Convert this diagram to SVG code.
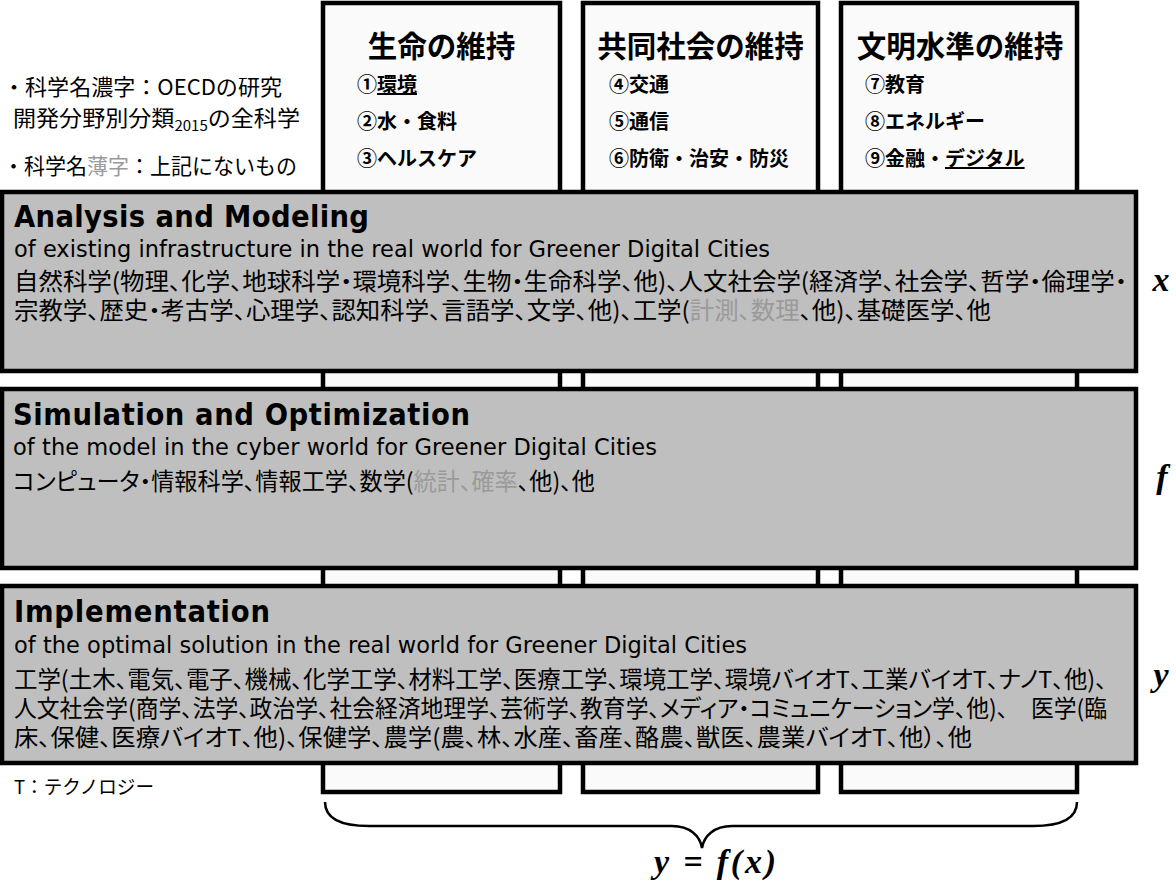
<svg xmlns="http://www.w3.org/2000/svg" width="1176" height="886" viewBox="0 0 1176 886">
<style>
.col{fill:#fafafa;stroke:#000;stroke-width:4.5}
.box{fill:#bfbfbf;stroke:#000;stroke-width:4.5}
.jp{font-family:"Noto Sans CJK JP","Noto Sans",sans-serif;fill:#000}
.hd{font-family:"Noto Sans CJK JP",sans-serif;font-weight:700;font-size:29.5px;text-anchor:middle}
.it{font-family:"Noto Sans CJK JP",sans-serif;font-weight:700;font-size:20px}
.h1{font-family:"DejaVu Sans Condensed","DejaVu Sans",sans-serif;font-weight:700;font-size:30.5px}
.sub{font-family:"DejaVu Sans",sans-serif;font-size:22.5px}
.body{font-family:"Noto Sans CJK JP",sans-serif;font-size:23.5px;font-feature-settings:"palt" 1}
.g{fill:#9a9a9a}
.var{font-family:"Liberation Serif",serif;font-style:italic;font-weight:700;font-size:34px;text-anchor:middle}
.u{text-decoration:underline}
</style>

<g id="legend" class="jp" font-size="21.5">
<text x="3" y="95" textLength="279" lengthAdjust="spacingAndGlyphs">・科学名濃字：OECDの研究</text>
<text x="13" y="126" textLength="287" lengthAdjust="spacingAndGlyphs">開発分野別分類<tspan font-size="14" dy="5">2015</tspan><tspan dy="-5">の全科学</tspan></text>
<text x="3" y="174" textLength="294" lengthAdjust="spacingAndGlyphs">・科学名<tspan class="g">薄字</tspan>：上記にないもの</text>
</g>

<g id="col-life">
<rect class="col" x="323" y="3" width="237" height="789"/>
<text class="hd" x="441.5" y="57">生命の維持</text>
<text class="it" x="357" y="92">①<tspan class="u">環境</tspan></text>
<text class="it" x="357" y="129">②水・食料</text>
<text class="it" x="357" y="166">③ヘルスケア</text>
</g>

<g id="col-community">
<rect class="col" x="583" y="3" width="235" height="789"/>
<text class="hd" x="700.5" y="57">共同社会の維持</text>
<text class="it" x="609" y="92">④交通</text>
<text class="it" x="609" y="129">⑤通信</text>
<text class="it" x="609" y="166">⑥防衛・治安・防災</text>
</g>

<g id="col-civilization">
<rect class="col" x="841" y="3" width="236" height="789"/>
<text class="hd" x="960" y="57">文明水準の維持</text>
<text class="it" x="865" y="92">⑦教育</text>
<text class="it" x="865" y="129">⑧エネルギー</text>
<text class="it" x="865" y="166">⑨金融・<tspan class="u">デジタル</tspan></text>
</g>

<g id="analysis">
<rect class="box" x="2" y="192" width="1134" height="179"/>
<text class="h1" x="14" y="227" textLength="355">Analysis and Modeling</text>
<text class="sub" x="14" y="257" textLength="756">of existing infrastructure in the real world for Greener Digital Cities</text>
<text class="body" x="14" y="290" textLength="1113" lengthAdjust="spacingAndGlyphs">自然科学(物理、化学、地球科学・環境科学、生物・生命科学、他)、人文社会学(経済学、社会学、哲学・倫理学・</text>
<text class="body" x="14" y="319" textLength="977" lengthAdjust="spacingAndGlyphs">宗教学、歴史・考古学、心理学、認知科学、言語学、文学、他)、工学(<tspan class="g">計測、数理</tspan>、他)、基礎医学、他</text>
</g>

<g id="simulation">
<rect class="box" x="2" y="389" width="1134" height="179"/>
<text class="h1" x="13" y="425" textLength="457">Simulation and Optimization</text>
<text class="sub" x="13" y="455" textLength="644">of the model in the cyber world for Greener Digital Cities</text>
<text class="body" x="13" y="490" textLength="582" lengthAdjust="spacingAndGlyphs">コンピュータ・情報科学、情報工学、数学(<tspan class="g">統計、確率</tspan>、他)、他</text>
</g>

<g id="implementation">
<rect class="box" x="2" y="586" width="1134" height="177"/>
<text class="h1" x="14" y="622" textLength="256">Implementation</text>
<text class="sub" x="14" y="653" textLength="733">of the optimal solution in the real world for Greener Digital Cities</text>
<text class="body" x="14" y="688" textLength="1093" lengthAdjust="spacingAndGlyphs">工学(土木、電気、電子、機械、化学工学、材料工学、医療工学、環境工学、環境バイオT、工業バイオT、ナノT、他)、</text>
<text class="body" x="14" y="717" textLength="1093" lengthAdjust="spacingAndGlyphs">人文社会学(商学、法学、政治学、社会経済地理学、芸術学、教育学、メディア・コミュニケーション学、他)、　医学(臨</text>
<text class="body" x="14" y="746" textLength="958" lengthAdjust="spacingAndGlyphs">床、保健、医療バイオT、他)、保健学、農学(農、林、水産、畜産、酪農、獣医、農業バイオT、他）、他</text>
</g>

<g id="note">
<text class="jp" x="14" y="794" font-size="19" textLength="140" lengthAdjust="spacingAndGlyphs">T：テクノロジー</text>
</g>

<g id="labels">
<text class="var" x="1161" y="291">x</text>
<text class="var" x="1162" y="488">f</text>
<text class="var" x="1161" y="686">y</text>
</g>

<g id="connectors">
<path d="M325,802 C325,818 340,826 369,826 L672,826 C690,826 700,836 702,848 C704,836 714,826 732,826 L1033,826 C1062,826 1077,818 1077,802" fill="none" stroke="#000" stroke-width="2.5"/>
</g>

<g id="formula">
<text class="var" x="715" y="873" font-size="36" textLength="122">y = f(x)</text>
</g>
</svg>
